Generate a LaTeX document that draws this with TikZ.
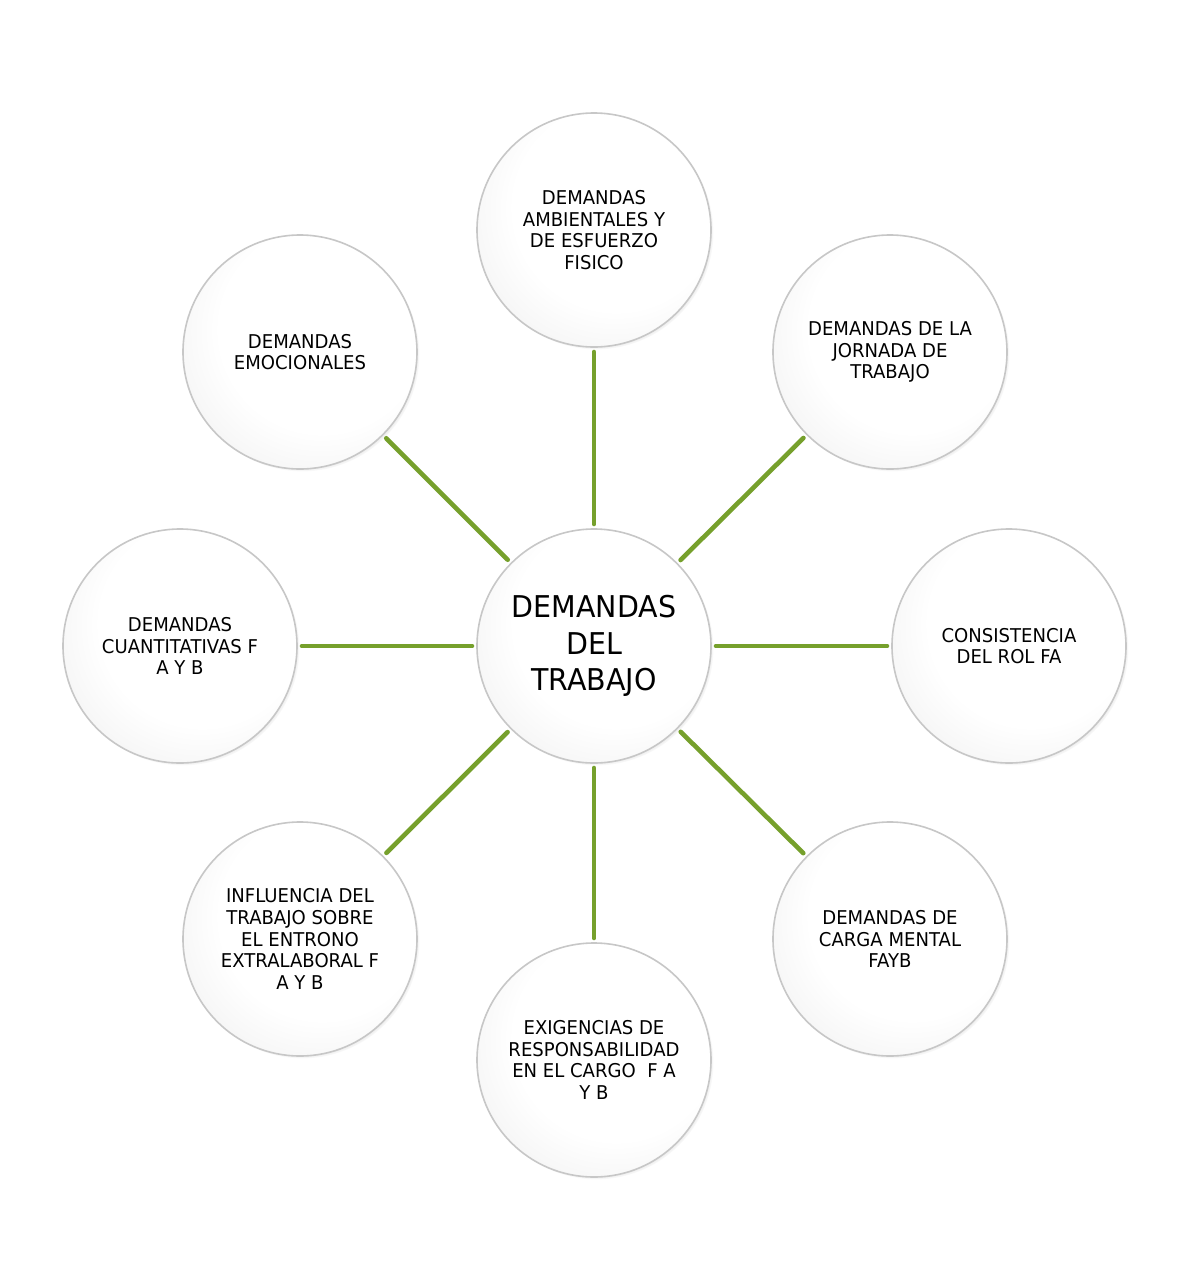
\documentclass[tikz,border=0pt]{standalone}
\usepackage{fontspec}
\setmainfont{DejaVu Sans}[FakeStretch=0.95]
\usetikzlibrary{shadows}
\definecolor{conngreen}{HTML}{76A02C}
\pgfdeclareradialshading{bubshade}{\pgfpoint{7bp}{7bp}}{color(0bp)=(white); color(22bp)=(white); color(40bp)=(black!7); color(50bp)=(black!17); color(58bp)=(black!24); color(70bp)=(black!24)}
\tikzset{
  bubble/.style={circle, minimum size=234pt, inner sep=0pt, outer sep=0pt,
     shading=bubshade, draw=black!22, line width=1.6pt,
     circular drop shadow={shadow xshift=2.4pt, shadow yshift=-2.4pt, shadow scale=1.0, fill=black!45, opacity=0.7},
     align=center, font=\fontsize{19}{21.7}\selectfont},
  hub/.style={bubble, font=\fontsize{30}{36.5}\selectfont},
  conn/.style={draw=conngreen, line width=4.6pt, line cap=round, shorten >=5pt, shorten <=5pt}
}
\begin{document}
\begin{tikzpicture}[x=1pt,y=1pt]
\useasboundingbox (0,0) rectangle (1193,-1286);
\fill[white] (0,0) rectangle (1193,-1286);
\node[hub] (c) at (594,-646) {DEMANDAS\\DEL\\TRABAJO};
\node[bubble] (n1) at (594,-230) {DEMANDAS\\AMBIENTALES Y\\DE ESFUERZO\\FISICO};
\node[bubble] (n2) at (890,-352) {DEMANDAS DE LA\\JORNADA DE\\TRABAJO};
\node[bubble] (n3) at (1009,-646) {CONSISTENCIA\\DEL ROL FA};
\node[bubble] (n4) at (890,-939) {DEMANDAS DE\\CARGA MENTAL\\FAYB};
\node[bubble] (n5) at (594,-1060) {EXIGENCIAS DE\\RESPONSABILIDAD\\EN EL CARGO\ \ F A\\Y B};
\node[bubble] (n6) at (300,-939) {INFLUENCIA DEL\\TRABAJO SOBRE\\EL ENTRONO\\EXTRALABORAL F\\A Y B};
\node[bubble] (n7) at (180,-646) {DEMANDAS\\CUANTITATIVAS F\\A Y B};
\node[bubble] (n8) at (300,-352) {DEMANDAS\\EMOCIONALES};
\foreach \n in {n1,n2,n3,n4,n5,n6,n7,n8} {
  \draw[conn] (c) -- (\n);
}
\end{tikzpicture}
\end{document}
